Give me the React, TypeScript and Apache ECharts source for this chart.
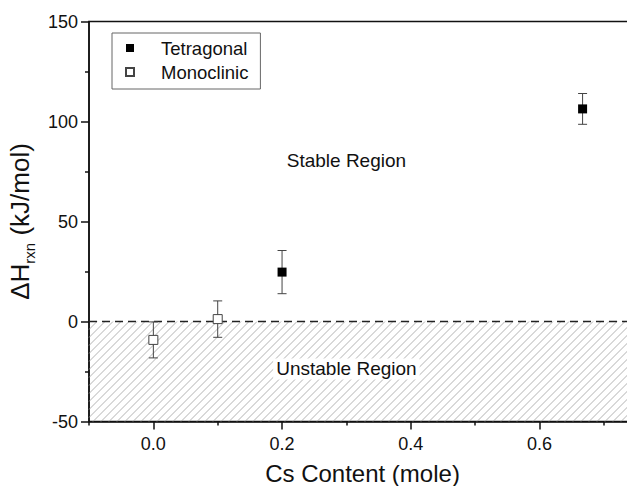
import React, { useEffect, useRef } from "react";
import * as echarts from "echarts";

const FONT = "'Liberation Sans', Arial, Helvetica, sans-serif";
const INK = "#111";

// axis ranges
const X_MIN = -0.1;
const X_MAX = 0.75;
const Y_MIN = -50;
const Y_MAX = 150;
const Y_STEP = 50;

const xMajorTicks = [0, 0.2, 0.4, 0.6];
const xMinorTicks = [-0.1, 0.1, 0.3, 0.5, 0.7];

// reaction enthalpy (kJ/mol) with uncertainties
const tetragonalX = [0.2, 0.667];
const tetragonalY = [24.7, 106.3];
const tetragonalErr = [10.8, 7.7];

const monoclinicX = [0.0, 0.1];
const monoclinicY = [-9.2, 1.2];
const monoclinicErr = [9.0, 9.1];

// shaded band below zero enthalpy
const unstableBand = [-50, 0];

const regionNames = ["Stable Region", "Unstable Region"];
const regionX = [0.3, 0.3];
const regionY = [80.5, -23.7];

const zip = (xs: number[], ys: number[]) => xs.map((x, i) => [x, ys[i]]);
const zip3 = (xs: number[], ys: number[], es: number[]) =>
  xs.map((x, i) => [x, ys[i], es[i]]);

const errorBarItem = (_params: any, api: any) => {
  const x = api.value(0);
  const y = api.value(1);
  const e = api.value(2);
  const top = api.coord([x, y + e]);
  const bot = api.coord([x, y - e]);
  const hw = 4.5;
  const style = { stroke: "#444", lineWidth: 1 };
  return {
    type: "group",
    children: [
      { type: "line", shape: { x1: top[0], y1: top[1], x2: bot[0], y2: bot[1] }, style },
      { type: "line", shape: { x1: top[0] - hw, y1: top[1], x2: top[0] + hw, y2: top[1] }, style },
      { type: "line", shape: { x1: bot[0] - hw, y1: bot[1], x2: bot[0] + hw, y2: bot[1] }, style },
    ],
  };
};

const hatchItem = (_params: any, api: any) => {
  const p0 = api.coord([api.value(0), api.value(3)]);
  const p1 = api.coord([api.value(1), api.value(2)]);
  const x0 = p0[0];
  const yT = p0[1];
  const x1 = p1[0];
  const yB = p1[1];
  const h = yB - yT;
  const step = 8;
  const children: any[] = [];
  for (let c = x0 - h; c < x1; c += step) {
    let sx = c;
    let sy = yB;
    let ex = c + h;
    let ey = yT;
    if (sx < x0) {
      sy = yB - (x0 - sx);
      sx = x0;
    }
    if (ex > x1) {
      ey = yT + (ex - x1);
      ex = x1;
    }
    if (sx >= ex) continue;
    children.push({
      type: "line",
      shape: { x1: sx, y1: sy, x2: ex, y2: ey },
      style: { stroke: "#a0a0a0", lineWidth: 0.8 },
    });
  }
  // dashed zero line along the top of the band
  children.push({
    type: "line",
    shape: { x1: x0, y1: yT, x2: x1, y2: yT },
    style: { stroke: "#222", lineWidth: 1.5, lineDash: [8, 5] },
  });
  return { type: "group", children };
};

const regionLabelItem = (params: any, api: any) => {
  const p = api.coord([api.value(0), api.value(1)]);
  return {
    type: "text",
    x: p[0],
    y: p[1],
    style: {
      text: regionNames[params.dataIndex],
      fill: INK,
      font: `19px ${FONT}`,
      textAlign: "center",
      textVerticalAlign: "middle",
      backgroundColor: "#fff",
      padding: [1, 3],
    },
  };
};

export default function App() {
  const ref = useRef<HTMLDivElement>(null);

  useEffect(() => {
    if (!ref.current) return;
    const chart = echarts.init(ref.current, undefined, { renderer: "svg" });
    const axisLine = { color: INK, width: 1.5 };

    chart.setOption({
      animation: false,
      backgroundColor: "#fff",
      textStyle: { fontFamily: FONT },
      grid: {
        left: 89,
        top: 21.5,
        right: -9,
        bottom: 64.5,
        outerBoundsMode: "none",
        containLabel: false,
        show: true,
        borderColor: INK,
        borderWidth: 1.5,
        backgroundColor: "transparent",
      },
      legend: {
        orient: "vertical",
        left: 112,
        top: 33,
        padding: [5, 12, 7, 13],
        borderColor: "#666",
        borderWidth: 1,
        itemWidth: 8,
        itemHeight: 8,
        itemGap: 4,
        textStyle: {
          fontSize: 18.5,
          lineHeight: 20,
          color: INK,
          fontFamily: FONT,
          padding: [0, 0, 0, 22],
        },
        data: [
          { name: "Tetragonal", icon: "rect" },
          { name: "Monoclinic", icon: "rect" },
        ],
      },
      xAxis: [
        {
          type: "value",
          min: X_MIN,
          max: X_MAX,
          position: "bottom",
          axisLine: { show: true, onZero: false, lineStyle: axisLine },
          axisTick: { show: true, customValues: xMajorTicks, length: 8, lineStyle: axisLine },
          axisLabel: {
            customValues: xMajorTicks,
            formatter: (v: number) => v.toFixed(1),
            fontSize: 18,
            color: INK,
            margin: 13,
            fontFamily: FONT,
          },
          splitLine: { show: false },
          name: "Cs Content (mole)",
          nameLocation: "middle",
          nameGap: 40,
          nameTextStyle: { fontSize: 24, color: INK, fontFamily: FONT },
        },
        {
          type: "value",
          min: X_MIN,
          max: X_MAX,
          position: "bottom",
          axisLine: { show: false, onZero: false },
          axisTick: { show: true, customValues: xMinorTicks, length: 4, lineStyle: axisLine },
          axisLabel: { show: false },
          splitLine: { show: false },
        },
      ],
      yAxis: {
        type: "value",
        min: Y_MIN,
        max: Y_MAX,
        interval: Y_STEP,
        axisLine: { show: true, onZero: false, lineStyle: axisLine },
        axisTick: { show: true, length: 8, lineStyle: axisLine },
        minorTick: { show: true, splitNumber: 2, length: 4, lineStyle: axisLine },
        axisLabel: { fontSize: 18, color: INK, margin: 11, fontFamily: FONT },
        splitLine: { show: false },
        minorSplitLine: { show: false },
        name: "{a|ΔH}{s|rxn}{a| (kJ/mol)}",
        nameLocation: "middle",
        nameGap: 44,
        nameTextStyle: {
          color: INK,
          fontFamily: FONT,
          fontSize: 26,
          rich: {
            a: { fontSize: 26, color: INK, fontFamily: FONT, lineHeight: 28 },
            s: {
              fontSize: 15,
              color: INK,
              fontFamily: FONT,
              lineHeight: 28,
              verticalAlign: "bottom",
              padding: [0, 0, -3, 0],
            },
          },
        },
      },
      series: [
        {
          name: "unstable",
          type: "custom",
          silent: true,
          z: 1,
          renderItem: hatchItem,
          encode: { x: [0, 1], y: [2, 3] },
          data: [[X_MIN, X_MAX, unstableBand[0], unstableBand[1]]],
        },
        {
          name: "regions",
          type: "custom",
          silent: true,
          z: 2,
          renderItem: regionLabelItem,
          encode: { x: 0, y: 1 },
          data: zip(regionX, regionY),
        },
        {
          name: "tetragonal-err",
          type: "custom",
          silent: true,
          z: 3,
          renderItem: errorBarItem,
          encode: { x: 0, y: 1 },
          data: zip3(tetragonalX, tetragonalY, tetragonalErr),
        },
        {
          name: "monoclinic-err",
          type: "custom",
          silent: true,
          z: 3,
          renderItem: errorBarItem,
          encode: { x: 0, y: 1 },
          data: zip3(monoclinicX, monoclinicY, monoclinicErr),
        },
        {
          name: "Tetragonal",
          type: "scatter",
          symbol: "rect",
          symbolSize: 9,
          z: 4,
          itemStyle: { color: "#000", opacity: 1 },
          data: zip(tetragonalX, tetragonalY),
        },
        {
          name: "Monoclinic",
          type: "scatter",
          symbol: "rect",
          symbolSize: 9,
          z: 4,
          itemStyle: { color: "#fff", borderColor: "#444", borderWidth: 1, opacity: 1 },
          data: zip(monoclinicX, monoclinicY),
        },
      ],
    });

    return () => chart.dispose();
  }, []);

  return (
    <div
      ref={ref}
      style={{ position: "absolute", left: 0, top: 0, width: 627, height: 486, overflow: "hidden" }}
    />
  );
}
